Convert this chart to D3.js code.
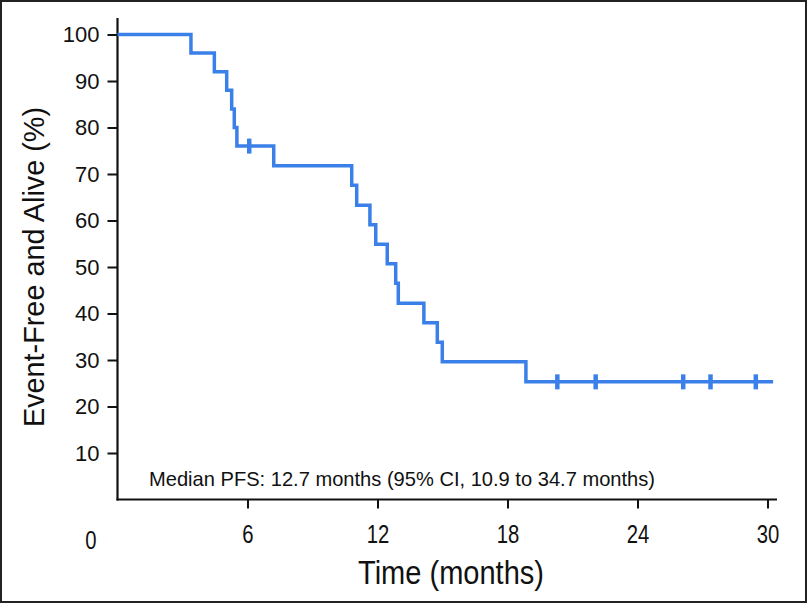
<!DOCTYPE html>
<html>
<head>
<meta charset="utf-8">
<script src="https://cdn.jsdelivr.net/npm/d3@7"></script>
<style>
  html, body { margin: 0; padding: 0; background: #fff; }
  svg { display: block; }
  text { font-family: "Liberation Sans", Arial, Helvetica, sans-serif; fill: #111; }
</style>
</head>
<body>
<svg id="chart" width="809" height="604"></svg>
<script>
// ---- data ----
const eventTimes = [0, 3.39, 4.47, 5.04, 5.27, 5.39, 5.51, 7.21, 10.81, 11.04, 11.65, 11.92, 12.45, 12.84, 12.96, 14.14, 14.76, 14.99, 18.85];
const survival   = [100, 96, 92, 88, 84, 80, 76, 71.8, 67.6, 63.3, 59.1, 54.9, 50.7, 46.5, 42.2, 38.0, 33.8, 29.6, 25.3];
const lastTime = 30.26;
const censorTimes = [6.08, 20.3, 22.07, 26.11, 27.37, 29.46];
const xTicks = [6, 12, 18, 24, 30];
const yTicks = [10, 20, 30, 40, 50, 60, 70, 80, 90, 100];
const xTitle = "Time (months)";
const yTitle = "Event-Free and Alive (%)";
const note = "Median PFS: 12.7 months (95% CI, 10.9 to 34.7 months)";

const svg = d3.select("#chart");

// outer frame
svg.append("rect").attr("x", 1).attr("y", 1).attr("width", 805).attr("height", 601)
  .attr("fill", "none").attr("stroke", "#222").attr("stroke-width", 2);

const x = d3.scaleLinear().domain([0, 30]).range([117.5, 767.5]);
const y = d3.scaleLinear().domain([0, 100]).range([499.5, 34.5]);

// axes lines
const axisG = svg.append("g").attr("stroke", "#111").attr("stroke-width", 2.2).attr("fill", "none");
axisG.append("line").attr("x1", x(0)).attr("x2", x(0)).attr("y1", 18).attr("y2", y(0) + 1);
axisG.append("line").attr("x1", x(0) - 1).attr("x2", 777).attr("y1", y(0)).attr("y2", y(0));

// y ticks
const yAxis = d3.axisLeft(y).tickValues(yTicks).tickSize(10).tickPadding(8).tickFormat(d3.format("d"));
const gy = svg.append("g").attr("transform", `translate(${x(0)},0)`).call(yAxis);
gy.select(".domain").remove();
gy.selectAll(".tick line").attr("stroke", "#111").attr("stroke-width", 2);
gy.selectAll(".tick text").style("font-size", "22px").attr("fill", "#111")
  .style("font-family", '"Liberation Sans", Arial, sans-serif');

// x ticks (condensed look)
const xAxis = d3.axisBottom(x).tickValues(xTicks).tickSize(9).tickPadding(16).tickFormat(d3.format("d"));
const gx = svg.append("g").attr("transform", `translate(0,${y(0)})`).call(xAxis);
gx.select(".domain").remove();
gx.selectAll(".tick line").attr("stroke", "#111").attr("stroke-width", 2);
gx.selectAll(".tick text").style("font-size", "26px").attr("fill", "#111")
  .style("font-family", '"Liberation Sans", Arial, sans-serif')
  .attr("transform", "scale(0.78,1)");
// zero label placed at the corner
svg.append("text").attr("transform", "translate(91,549) scale(0.78,1)").attr("text-anchor", "middle")
  .style("font-size", "26px")
  .text("0");

// titles
svg.append("text").attr("x", 451).attr("y", 584).attr("text-anchor", "middle")
  .style("font-size", "34px")
  .attr("textLength", 186).attr("lengthAdjust", "spacingAndGlyphs")
  .text(xTitle);

svg.append("text").attr("transform", "translate(44,267) rotate(-90)").attr("text-anchor", "middle")
  .style("font-size", "29px").attr("textLength", 320).attr("lengthAdjust", "spacingAndGlyphs")
  .text(yTitle);

svg.append("text").attr("x", 149).attr("y", 486)
  .style("font-size", "21px")
  .attr("textLength", 506).attr("lengthAdjust", "spacingAndGlyphs")
  .text(note);

// KM curve
const pts = eventTimes.map((t, i) => [t, survival[i]]);
pts.push([lastTime, survival[survival.length - 1]]);
const line = d3.line().x(d => x(d[0])).y(d => y(d[1])).curve(d3.curveStepAfter);
const color = "#3b80e8";
svg.append("path").datum(pts).attr("d", line)
  .attr("fill", "none").attr("stroke", color).attr("stroke-width", 3.5).attr("stroke-linejoin", "miter");

function survAt(t) {
  let s = survival[0];
  for (let i = 0; i < eventTimes.length; i++) if (eventTimes[i] <= t) s = survival[i];
  return s;
}
svg.append("g").selectAll("line").data(censorTimes).join("line")
  .attr("x1", d => x(d)).attr("x2", d => x(d))
  .attr("y1", d => y(survAt(d)) - 7.5).attr("y2", d => y(survAt(d)) + 7.5)
  .attr("stroke", color).attr("stroke-width", 4.5);
</script>
</body>
</html>
